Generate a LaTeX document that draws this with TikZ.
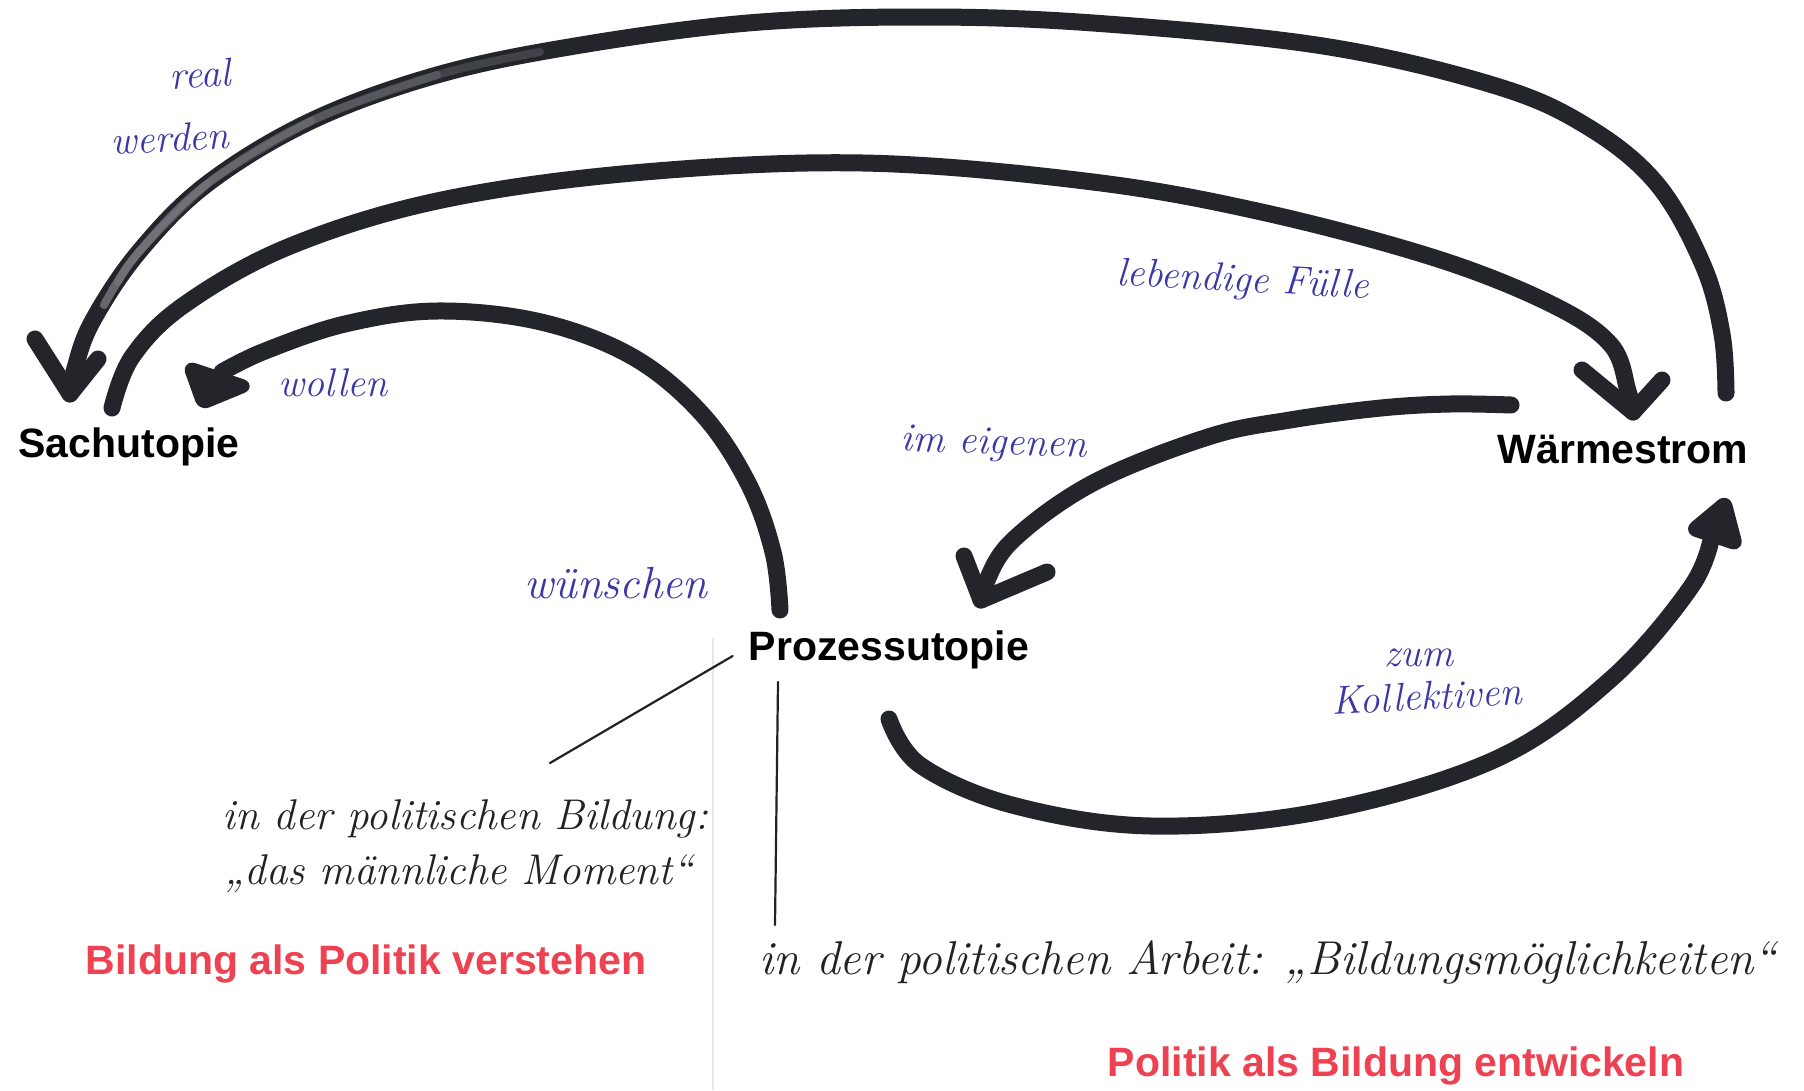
\documentclass[tikz,border=0pt]{standalone}
\usepackage{fontspec}
\newfontfamily\headfont{Liberation Sans}
\begin{document}
\definecolor{markerink}{HTML}{24242B}
\definecolor{dryink}{HTML}{8A8A90}
\definecolor{blueink}{HTML}{3B38A6}
\definecolor{penblack}{HTML}{222222}
\definecolor{redink}{HTML}{EE4152}
\begin{tikzpicture}[x=1pt,y=-1pt,
  term/.style={font=\headfont\bfseries\fontsize{41}{49}\selectfont, inner sep=0pt, text=black},
  redterm/.style={term, text=redink},
  hand/.style={font=\itshape\fontsize{40}{44}\selectfont, inner sep=0pt, text=blueink},
  note/.style={hand, text=penblack},
  marker/.style={draw=markerink, line width=17pt, line cap=round, line join=round},
  dry/.style={draw=dryink, line width=8pt, line cap=round, draw opacity=0.3},
  blob/.style={fill=markerink, draw=markerink, line width=10pt, line join=round, rounded corners=6pt},
  thinline/.style={draw=penblack, line width=2.2pt, line cap=round}]

% page
\fill[white] (0,0) rectangle (1804,1090);
\useasboundingbox (0,0) rectangle (1804,1090);

% faint fold in the paper
\draw[black!10, line width=1.5pt] (713,638) -- (713,1090);

% the three terms
\node[term] (sach) at (129,447) {Sachutopie};
\node[term] (warm) at (1623,449) {Wärmestrom};
\node[term] (proz) at (889,650) {Prozessutopie};

% end points of the strokes
\coordinate (w1) at (1726,393);
\coordinate (s1) at (70,394);
\coordinate (s2) at (112,408);
\coordinate (w2) at (1633,412);
\coordinate (p3) at (780,610);
\coordinate (s3) at (222,372);
\coordinate (w4) at (1511,405);
\coordinate (p4) at (981,600);
\coordinate (p5) at (889,719);
\coordinate (w5) at (1712,535);

% outer arc: Wärmestrom -> Sachutopie
\draw[marker] plot[smooth, tension=0.6] coordinates {(w1) (1722,334) (1703,265) (1657,184) (1588,127) (1496,86) (1323,46) (1093,23) (920,17) (748,23) (575,46) (437,75) (311,121) (207,184) (138,253) (92,322) (75,368) (s1)};
% the drier, greyer stretch of the marker on the left, fading out to the right
\draw[dry] plot[smooth, tension=0.6] coordinates {(104,305) (138,253) (207,184)};
\draw[dry] plot[smooth, tension=0.6] coordinates {(104,305) (138,253) (207,184) (311,121)};
\draw[dry] plot[smooth, tension=0.6] coordinates {(104,305) (138,253) (207,184) (311,121) (437,75)};
\draw[dry] plot[smooth, tension=0.6] coordinates {(118,282) (138,253) (207,184) (311,121) (437,75) (540,52)};
\draw[marker] (35,339) -- (s1) -- (98,359);

% inner arc: Sachutopie -> Wärmestrom
\draw[marker] plot[smooth, tension=0.6] coordinates {(s2) (132,357) (184,305) (288,247) (437,201) (633,173) (863,163) (1093,182) (1266,213) (1438,259) (1553,305) (1611,345) (1628,391) (w2)};
\draw[marker] (1582,370) -- (w2) -- (1662,380);

% Prozessutopie -> Sachutopie
\draw[marker] plot[smooth, tension=0.6] coordinates {(p3) (773,552) (748,483) (702,414) (633,357) (541,322) (437,311) (345,324) (265,351) (s3)};
\filldraw[blob] (188,366) -- (248,386) -- (202,405) -- cycle;

% Wärmestrom -> Prozessutopie
\draw[marker] plot[smooth, tension=0.6] coordinates {(w4) (1450,404) (1381,408) (1290,420) (1208,437) (1093,483) (1012,541) (984,587) (p4)};
\draw[marker] (964,556) -- (p4) -- (1047,572);

% Prozessutopie -> Wärmestrom
\draw[marker] plot[smooth, tension=0.6] coordinates {(p5) (920,765) (1012,805) (1151,826) (1323,811) (1496,759) (1611,679) (1691,587) (w5)};
\filldraw[blob] (1726,500) -- (1690,530) -- (1738,546) -- cycle;

% labels on the strokes
\node[hand, rotate=4] (real) at (200,74) {real};
\node[hand, rotate=3] (werden) at (170,138) {werden};
\node[hand, rotate=-3] (fuelle) at (1243,282) {lebendige Fülle};
\node[hand] (wollen) at (333,383) {wollen};
\node[hand, rotate=-2] (eigen) at (994,445) {im eigenen};
\node[hand, font=\itshape\fontsize{45}{50}\selectfont] (wuensch) at (616,583) {wünschen};
\node[hand] (zum) at (1419,658) {zum};
\node[hand, rotate=3] (koll) at (1427,696) {Kollektiven};

% notes under Prozessutopie
\draw[thinline] (proz.west) ++(-16,6) coordinate (d0) -- (550,763) coordinate (d1);
\draw[thinline] (778,682) coordinate (v0) -- (775,925) coordinate (v1);
\node[note, anchor=west, font=\itshape\fontsize{43}{48}\selectfont] (bild1) at (222,819) {in der politischen Bildung:};
\node[note, anchor=west, font=\itshape\fontsize{43}{48}\selectfont] (bild2) at (224,874) {„das männliche Moment“};
\node[note, anchor=west, font=\itshape\fontsize{47.5}{52}\selectfont] (arbeit) at (759,962) {in der politischen Arbeit: „Bildungsmöglichkeiten“};

% the two headings
\node[redterm] (bap) at (366,964) {Bildung als Politik verstehen};
\node[redterm] (pab) at (1396,1066) {Politik als Bildung entwickeln};
\end{tikzpicture}
\end{document}
